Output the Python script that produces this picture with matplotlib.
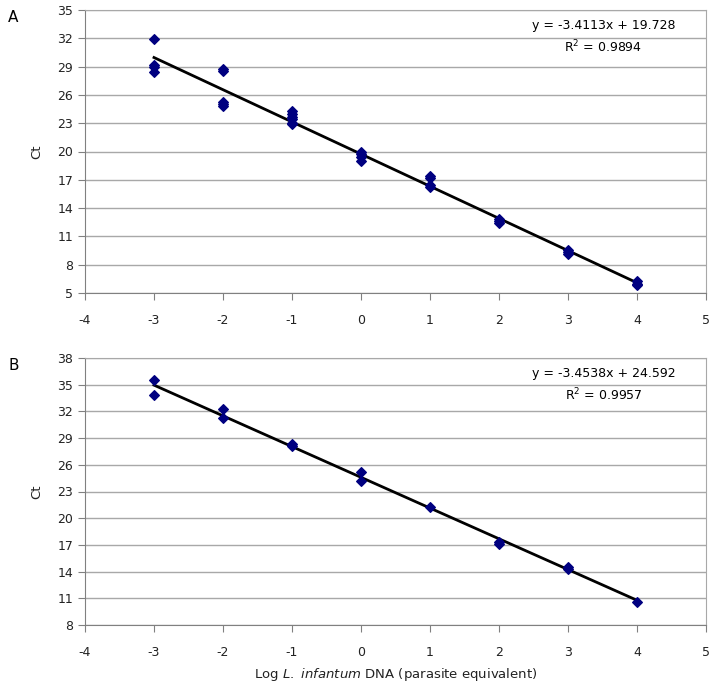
import matplotlib
matplotlib.use("Agg")
import matplotlib.pyplot as plt
import numpy as np

# Panel A: Ct per log DNA amount
xa = [-3, -3, -3, -3,
      -2, -2, -2, -2, -2,
      -1, -1, -1, -1, -1, -1,
      0, 0, 0, 0,
      1, 1, 1, 1,
      2, 2, 2,
      3, 3, 3,
      4, 4, 4]
ya = [31.9, 29.2, 29.0, 28.4,
      28.7, 28.5, 25.2, 25.0, 24.8,
      24.3, 24.0, 23.7, 23.4, 23.0, 22.9,
      19.9, 19.7, 19.4, 19.0,
      17.4, 17.2, 16.5, 16.2,
      12.8, 12.6, 12.4,
      9.6, 9.3, 9.1,
      6.3, 6.0, 5.8]
slope_a, icpt_a, r2_a = -3.4113, 19.728, 0.9894

# Panel B
xb = [-3, -3, -2, -2, -1, -1, 0, 0, 1, 2, 2, 3, 3, 4]
yb = [35.5, 33.8, 32.3, 31.3, 28.3, 28.1, 25.2, 24.2, 21.3, 17.3, 17.1, 14.5, 14.3, 10.6]
slope_b, icpt_b, r2_b = -3.4538, 24.592, 0.9957

W, H = 714, 686
plt.rcParams['font.family'] = ['DejaVu Sans']
plt.rcParams['axes.unicode_minus'] = False
fig = plt.figure(figsize=(W / 100, H / 100), dpi=100)


def panel(top, bottom, x, y, slope, icpt, r2, ylo, yhi, letter):
    ax = fig.add_axes([85 / W, 1 - bottom / H, 621 / W, (bottom - top) / H])
    ax.set_xlim(-4, 5)
    ax.set_ylim(ylo, yhi)
    ax.set_xticks(range(-4, 6))
    ax.set_yticks(range(ylo, yhi + 1, 3))
    ax.yaxis.grid(True, color='#a8a8a8', lw=1)
    ax.set_axisbelow(True)
    for s in ['top', 'right']:
        ax.spines[s].set_color('#a8a8a8')
    for s in ['left', 'bottom']:
        ax.spines[s].set_color('#808080')
    ax.tick_params(direction='out', length=5, color='#808080', labelsize=9,
                   labelcolor='#222222')
    ax.tick_params(axis='x', pad=10)
    xs = np.array([min(x), max(x)])
    ax.plot(xs, slope * xs + icpt, color='black', lw=2, zorder=2)
    ax.scatter(x, y, marker='D', s=24, color='#000080', zorder=3)
    ax.set_ylabel('Ct', fontsize=9.5, labelpad=10, color='#222222')
    # trendline label, placed in pixels from the plot's top edge
    h = bottom - top
    ax.text(0.835, 1 - 16 / h, f'y = {slope}x + {icpt}', transform=ax.transAxes,
            ha='center', va='center', fontsize=9)
    ax.text(0.835, 1 - 37 / h, f'R$^2$ = {r2}', transform=ax.transAxes,
            ha='center', va='center', fontsize=9)
    fig.text(8 / W, 1 - (top + 8) / H, letter, fontsize=11, va='center')
    return ax


panel(10, 293, xa, ya, slope_a, icpt_a, r2_a, 5, 35, 'A')
axb = panel(358, 625, xb, yb, slope_b, icpt_b, r2_b, 8, 38, 'B')
axb.set_xlabel('Log $\\it{L.\\ infantum}$ DNA (parasite equivalent)', fontsize=9.5,
               labelpad=5, color='#222222')

fig.savefig('out.png', dpi=100)
